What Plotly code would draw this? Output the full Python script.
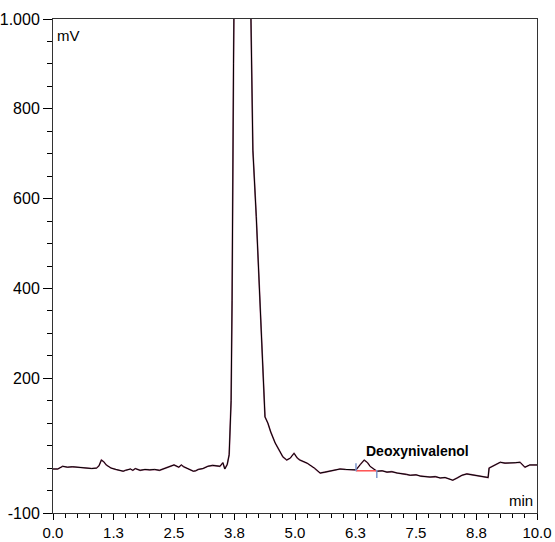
import plotly.graph_objects as go

# chromatogram signal (min, mV)
time_min = [
    0.0, 0.1, 0.2, 0.3, 0.4, 0.5, 0.6, 0.7, 0.8, 0.9, 0.95, 1.0, 1.05, 1.1, 1.2,
    1.3, 1.4, 1.45, 1.5, 1.6, 1.65, 1.7, 1.8, 1.9, 2.0, 2.1, 2.2, 2.3, 2.4, 2.45,
    2.5, 2.6, 2.65, 2.7, 2.8, 2.9, 2.95, 3.0, 3.1, 3.2, 3.3, 3.4, 3.45, 3.51, 3.55,
    3.6, 3.64, 3.68, 3.70, 3.73, 3.76, 3.9, 4.05, 4.09, 4.13, 4.2, 4.28, 4.33,
    4.38, 4.44, 4.5, 4.59, 4.67, 4.75, 4.83, 4.9, 4.98, 5.05, 5.1, 5.25, 5.4,
    5.52, 5.62, 5.72, 5.82, 5.93, 6.05, 6.2, 6.26, 6.35, 6.43, 6.5, 6.55, 6.69,
    6.8, 6.9, 7.0, 7.11, 7.2, 7.3, 7.38, 7.5, 7.6, 7.79, 7.9, 8.0, 8.1, 8.26,
    8.35, 8.45, 8.55, 8.7, 8.85, 8.97, 8.99, 9.01, 9.1, 9.24, 9.34, 9.44, 9.55,
    9.65, 9.7, 9.75, 9.85, 9.92, 10.0,
]
signal_mv = [
    -2, -2, 4, 2, 3, 2, 1, 0, -1, 0, 5, 18, 14, 7, 0,
    -3, -6, -7, -5, -2, -5, -1, -5, -3, -4, -3, -5, -1, 4, 5,
    7, 2, 7, 3, -2, -7, -6, -3, -1, 4, 6, 5, 4, 12, -2,
    8, 30, 150, 374, 900, 1300, 1500, 1300, 1000, 708, 560, 374, 240,
    114, 100, 80, 56, 40, 25, 18, 22, 33, 22, 18, 11, 0,
    -11, -9, -7, -4, -2, -3, -4, -4, 8, 18, 12, 4, -7,
    -6, -9, -8, -11, -12, -14, -16, -15, -18, -20, -19, -22, -21, -27,
    -22, -16, -13, -16, -18, -20, -21, 0, 5, 13, 11, 11, 12,
    13, 8, 2, 7, 7, 7,
]

# integrated peak
peak_name = "Deoxynivalenol"
peak_apex = (6.43, 18)
peak_start = 6.26
peak_end = 6.69
peak_baseline = -6
start_mark = [11, -7]
end_mark = [-4, -22]

x_tickvals = [0.0, 1.25, 2.5, 3.75, 5.0, 6.25, 7.5, 8.75, 10.0]
x_ticktext = ["0.0", "1.3", "2.5", "3.8", "5.0", "6.3", "7.5", "8.8", "10.0"]
y_tickvals = [-100, 200, 400, 600, 800, 1000]
y_ticktext = ["-100", "200", "400", "600", "800", "1.000"]

FONT = "Liberation Sans, Arial, sans-serif"

fig = go.Figure()
fig.add_trace(go.Scatter(x=time_min, y=signal_mv, mode="lines",
                         line={"color": "#a0587a", "width": 1.6}, hoverinfo="skip"))
fig.add_trace(go.Scatter(x=time_min, y=signal_mv, mode="lines",
                         line={"color": "#000000", "width": 1}))
fig.add_trace(go.Scatter(x=[peak_start, peak_end], y=[peak_baseline, peak_baseline],
                         mode="lines", line={"color": "#ff5050", "width": 1.5}))
fig.add_trace(go.Scatter(x=[peak_start, peak_start], y=start_mark, mode="lines",
                         line={"color": "#7d97cc", "width": 1.5}))
fig.add_trace(go.Scatter(x=[peak_end, peak_end], y=end_mark, mode="lines",
                         line={"color": "#7d97cc", "width": 1.5}))

fig.add_annotation(x=peak_apex[0], y=peak_apex[1] + 20, text=f"<b>{peak_name}</b>",
                   xanchor="left", yanchor="middle", showarrow=False,
                   font={"size": 14, "color": "black"})
fig.add_annotation(x=0, y=1, xref="paper", yref="paper", text="mV", showarrow=False,
                   xanchor="left", yanchor="top", xshift=2, yshift=-6,
                   font={"size": 15, "color": "black"})
fig.add_annotation(x=1, y=0, xref="paper", yref="paper", text="min", showarrow=False,
                   xanchor="right", yanchor="bottom", xshift=-2, yshift=2,
                   font={"size": 15, "color": "black"})

fig.update_layout(
    width=555, height=542,
    margin={"l": 53, "r": 18, "t": 19, "b": 29, "autoexpand": False},
    plot_bgcolor="white", paper_bgcolor="white",
    showlegend=False,
    font={"family": FONT, "size": 16, "color": "black"},
)
fig.update_xaxes(
    range=[0, 10], tickvals=x_tickvals, ticktext=x_ticktext,
    ticks="outside", ticklen=6, tickcolor="black", automargin=False,
    tickfont={"size": 15},
    minor={"dtick": 0.25, "tick0": 0, "ticks": "outside", "ticklen": 4, "tickcolor": "black"},
    showline=True, linecolor="#333333", linewidth=1, mirror=True,
    showgrid=False, zeroline=False,
)
fig.update_yaxes(
    range=[-100, 1000], tickvals=y_tickvals, ticktext=y_ticktext,
    ticks="outside", ticklen=9, tickcolor="black", automargin=False,
    minor={"dtick": 50, "tick0": 0, "ticks": "outside", "ticklen": 5, "tickcolor": "black"},
    showline=True, linecolor="#333333", linewidth=1, mirror=True,
    showgrid=False, zeroline=False,
)

# drop the browser's default 8px body margin so the figure fills the window
fig.write_html("out.html", config={"displayModeBar": False},
               post_script="document.body.style.margin = '0';")
